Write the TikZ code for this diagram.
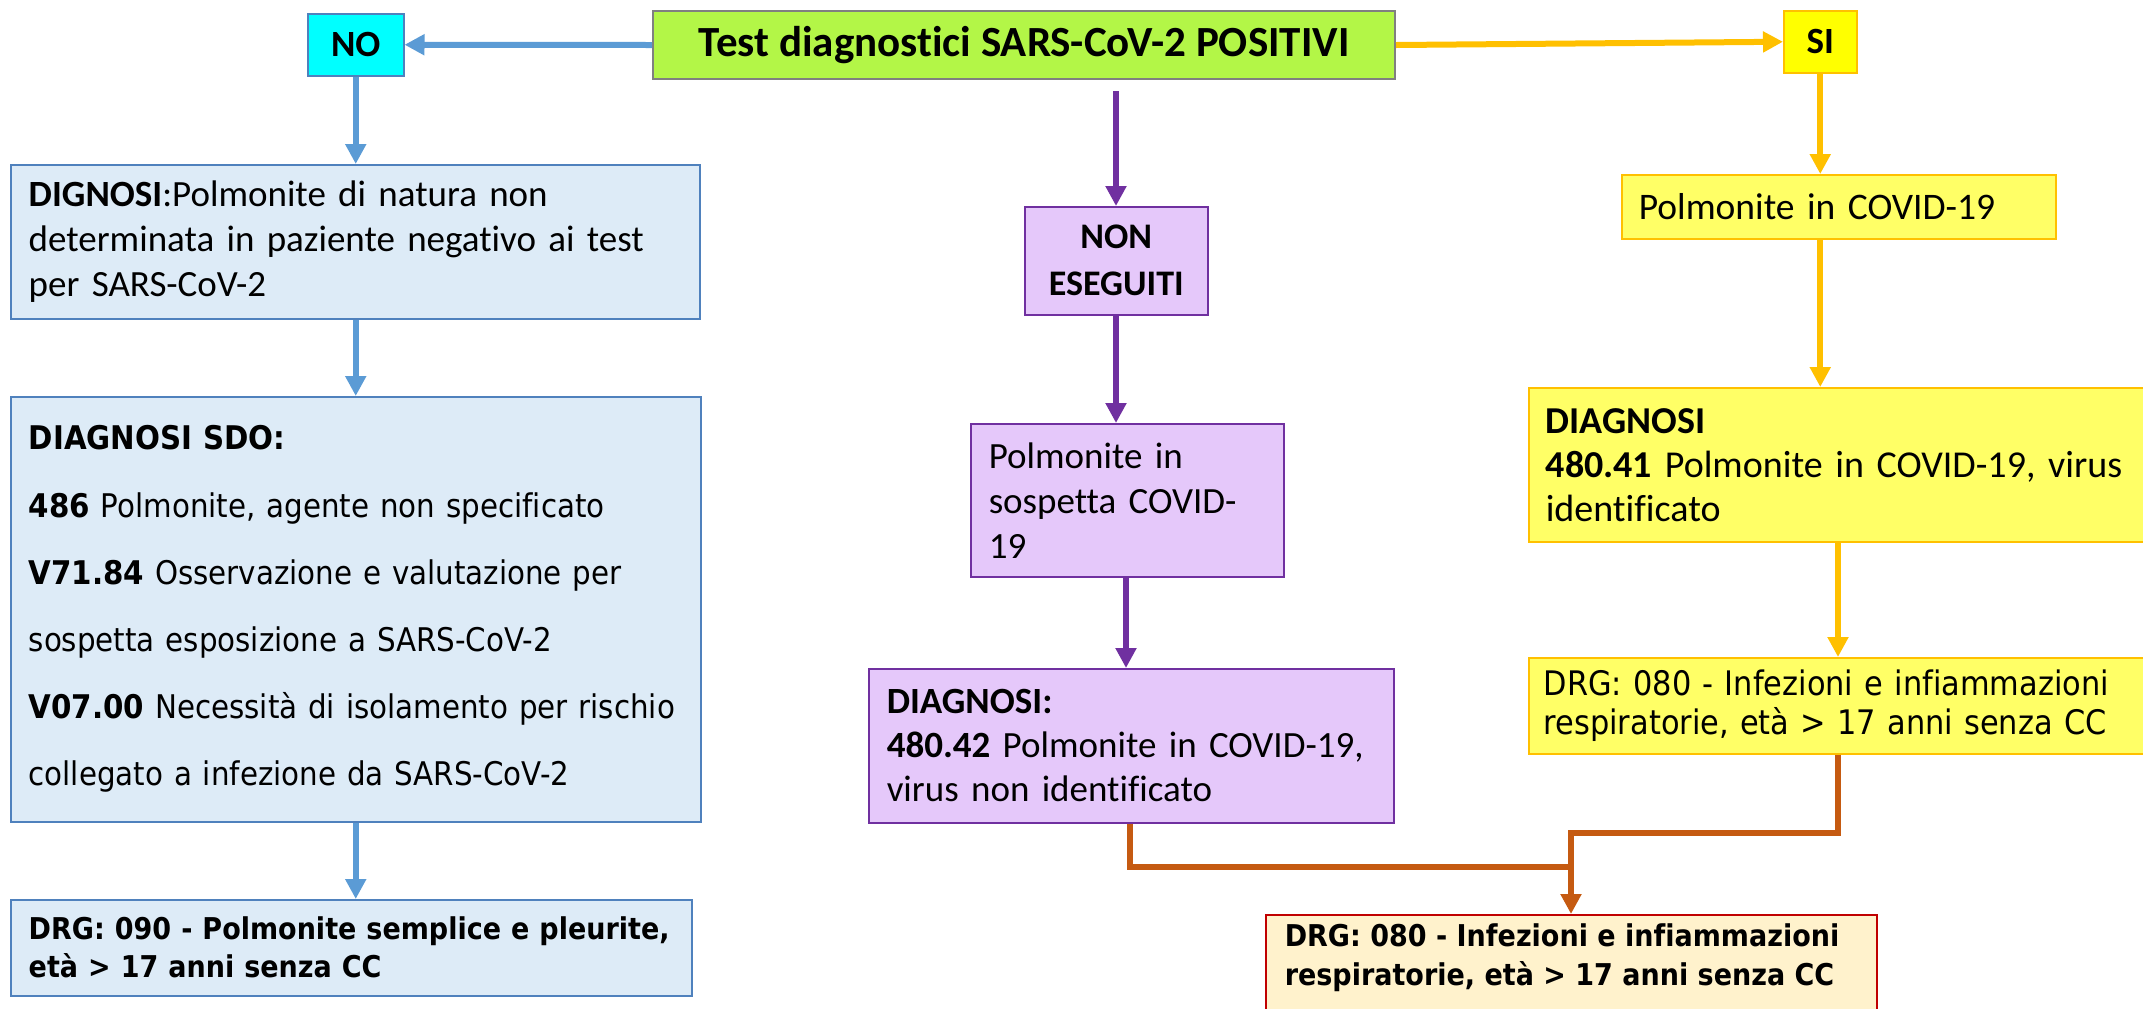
\documentclass[tikz,border=0pt]{standalone}
\usepackage{fontspec}
\setmainfont{Carlito}[Ligatures=NoCommon]
\newfontfamily\tahoma{DejaVu Sans}[FakeStretch=0.9,Ligatures=NoCommon]
\usetikzlibrary{arrows.meta,calc}

\definecolor{greentop}{HTML}{B3F647}
\definecolor{grayline}{HTML}{808080}
\definecolor{cyanno}{HTML}{00FFFF}
\definecolor{bluebord}{HTML}{4F81BD}
\definecolor{bluefill}{HTML}{DDEBF7}
\definecolor{bluearr}{HTML}{5B9BD5}
\definecolor{siyellow}{HTML}{FFFF00}
\definecolor{lightyellow}{HTML}{FFFF66}
\definecolor{orangeline}{HTML}{FFC000}
\definecolor{purplefill}{HTML}{E5C8FA}
\definecolor{purpleline}{HTML}{7030A0}
\definecolor{brownline}{HTML}{C55A11}
\definecolor{creamfill}{HTML}{FFF2CC}
\definecolor{darkred}{HTML}{C00000}

\begin{document}
\begin{tikzpicture}[x=0.5pt,y=-0.5pt,
  box/.style={draw,rectangle,anchor=north west,inner ysep=0pt,line width=0.75pt},
  bluebox/.style={box,fill=bluefill,draw=bluebord},
  purplebox/.style={box,fill=purplefill,draw=purpleline},
  yellowbox/.style={box,fill=lightyellow,draw=orangeline},
  bluearrow/.style={draw=bluearr,line width=3pt,-{Triangle[length=10pt,width=10pt]}},
  orangearrow/.style={draw=orangeline,line width=3pt,-{Triangle[length=10pt,width=10pt]}},
  purplearrow/.style={draw=purpleline,line width=3pt,-{Triangle[length=10pt,width=10pt]}},
  brownarrow/.style={draw=brownline,line width=3pt,-{Triangle[length=10pt,width=10pt]}},
  brownpath/.style={draw=brownline,line width=3pt}]
\useasboundingbox (0,0) rectangle (2143,1008);

% top row
\node[box,fill=greentop,draw=grayline,line width=1pt,minimum width=371pt,minimum height=34pt,
  font=\bfseries\fontsize{21.5}{24}\selectfont] (test) at (652,10) {Test diagnostici SARS-CoV-2 POSITIVI};
\node[box,fill=cyanno,draw=bluebord,minimum width=48pt,minimum height=31pt,
  font=\bfseries\fontsize{18.5}{22}\selectfont] (no) at (307,13) {NO};
\node[box,fill=siyellow,draw=orangeline,minimum width=36.5pt,minimum height=31pt,
  font=\bfseries\fontsize{18.5}{22}\selectfont] (si) at (1783,10) {SI};

% left column (NO)
\node[bluebox,minimum width=344.5pt,minimum height=77pt,text width=326.5pt,inner xsep=9pt,align=left,
  font=\fontsize{18.5}{22.5}\selectfont] (dign) at (10,164)
  {\textbf{DIGNOSI}:Polmonite di natura non\\determinata in paziente negativo ai test\\per SARS-CoV-2};
\node[bluebox,minimum width=345pt,minimum height=212.5pt,text width=327pt,inner xsep=9pt,align=left,
  font=\tahoma\fontsize{16.3}{33.6}\selectfont] (sdo) at (10,396)
  {\textbf{DIAGNOSI SDO:}\\
   \textbf{486} Polmonite, agente non specificato\\
   \textbf{V71.84} Osservazione e valutazione per\\
   sospetta esposizione a SARS-CoV-2\\
   \textbf{V07.00} Necessità di isolamento per rischio\\
   collegato a infezione da SARS-CoV-2};
\node[bluebox,minimum width=340.5pt,minimum height=48pt,text width=322.5pt,inner xsep=9pt,align=left,
  font=\tahoma\bfseries\fontsize{15}{19}\selectfont] (drgno) at (10,899)
  {DRG: 090 - Polmonite semplice e pleurite,\\età > 17 anni senza CC};

% middle column (non eseguiti)
\node[purplebox,minimum width=91.5pt,minimum height=54pt,align=center,
  font=\bfseries\fontsize{18}{23.5}\selectfont] (non) at (1024,206) {NON\\ESEGUITI};
\node[purplebox,minimum width=156.5pt,minimum height=76.5pt,text width=138.5pt,inner xsep=9pt,align=left,
  font=\fontsize{18.5}{22.5}\selectfont] (sosp) at (970,423) {Polmonite in\\sospetta COVID-\\19};
\node[purplebox,minimum width=262.5pt,minimum height=77pt,text width=244.5pt,inner xsep=9pt,align=left,
  font=\fontsize{18.5}{22}\selectfont] (dxnon) at (868,668)
  {\textbf{DIAGNOSI:}\\\textbf{480.42} Polmonite in COVID-19,\\virus non identificato};

% right column (SI)
\node[yellowbox,minimum width=217pt,minimum height=32pt,text width=200pt,inner xsep=8.5pt,align=left,
  font=\fontsize{18.75}{22}\selectfont] (covid) at (1621,174) {Polmonite in COVID-19};
\node[yellowbox,minimum width=316pt,minimum height=77pt,text width=299pt,inner xsep=8.5pt,align=left,
  font=\fontsize{19}{22}\selectfont] (dxsi) at (1528,387)
  {\textbf{DIAGNOSI}\\\textbf{480.41} Polmonite in COVID-19, virus\\identificato};
\node[yellowbox,minimum width=316pt,minimum height=48pt,text width=301pt,inner xsep=7.5pt,align=left,
  font=\tahoma\fontsize{16.9}{19.5}\selectfont] (drgsi) at (1528,657)
  {DRG: 080 - Infezioni e infiammazioni\\respiratorie, età > 17 anni senza CC};

% joint result
\node[box,fill=creamfill,draw=darkred,inner xsep=9.5pt,inner ysep=4.5pt] (drgend) at (1265,914)
  {\parbox[c][49pt][t]{286.5pt}{\raggedright\tahoma\bfseries\fontsize{15}{19.5}\selectfont
   DRG: 080 - Infezioni e infiammazioni\\respiratorie, età > 17 anni senza CC}};

% connectors
\coordinate (pstart) at (1116,91);
\coordinate (pcol) at (1126,0);
\coordinate (rcol) at (1838,0);
\coordinate (join) at (1571,0);
\coordinate (lowbend) at (1130,867);
\coordinate (highbend) at (1838,833);

\draw[bluearrow] (test.west) -- (no.east);
\draw[bluearrow] (no.south) -- (dign.north -| no.south);
\draw[bluearrow] (dign.south -| no.south) -- (sdo.north -| no.south);
\draw[bluearrow] (sdo.south -| no.south) -- (drgno.north -| no.south);

\draw[orangearrow] (test.east) -- (si.west);
\draw[orangearrow] (si.south) -- (covid.north -| si.south);
\draw[orangearrow] (covid.south -| si.south) -- (dxsi.north -| si.south);
\draw[orangearrow] (dxsi.south -| rcol) -- (drgsi.north -| rcol);

\draw[purplearrow] (pstart) -- (non.north -| pstart);
\draw[purplearrow] (non.south -| pstart) -- (sosp.north -| pstart);
\draw[purplearrow] (sosp.south -| pcol) -- (dxnon.north -| pcol);

\draw[brownarrow] (dxnon.south -| lowbend) -- (lowbend) -| (drgend.north -| join);
\draw[brownpath] (drgsi.south -| rcol) -- (highbend) -| (join |- lowbend);
\end{tikzpicture}
\end{document}
